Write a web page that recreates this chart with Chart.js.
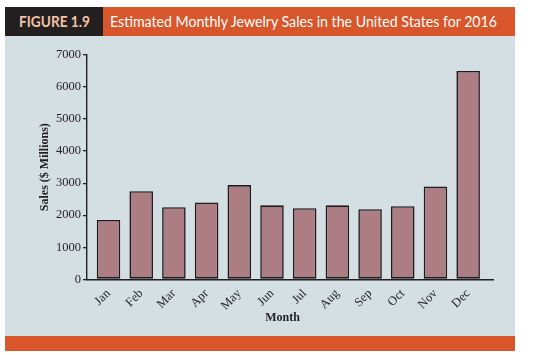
<!DOCTYPE html>
<html>
<head>
<meta charset="utf-8">
<script src="https://cdn.jsdelivr.net/npm/chart.js@4/dist/chart.umd.min.js"></script>
<style>
  html, body { margin: 0; padding: 0; background: #ffffff; }
  #wrap { position: relative; width: 534px; height: 355px; overflow: hidden; }
  .blk { position: absolute; }
  #figbox { left: 5px; top: 7px; width: 98px; height: 29px; background: #231F20; }
  #titlebox { left: 103px; top: 7px; width: 412px; height: 29px; background: #D9552A; }
  #panel { left: 5px; top: 36px; width: 510px; height: 300px; background: #D4DFE3; }
  #footer { left: 5px; top: 336px; width: 510px; height: 15px; background: #D9552A; }
  .htxt { position: absolute; white-space: nowrap; font-family: Lato, "Open Sans", sans-serif; font-size: 15.5px; line-height: 29px; top: 7px; transform-origin: left center; }
  #figtxt { left: 19px; color: #F3C4A6; font-weight: 700; }
  #ttltxt { left: 110px; color: #ffffff; font-weight: 400; }
  canvas { position: absolute; left: 0; top: 0; }
</style>
</head>
<body>
<div id="wrap">
  <div class="blk" id="figbox"></div>
  <div class="blk" id="titlebox"></div>
  <div class="blk" id="panel"></div>
  <div class="blk" id="footer"></div>
  <div class="htxt" id="figtxt">FIGURE 1.9</div>
  <div class="htxt" id="ttltxt">Estimated Monthly Jewelry Sales in the United States for 2016</div>
  <canvas id="c" width="534" height="355"></canvas>
</div>
<script>
const months = ["Jan","Feb","Mar","Apr","May","Jun","Jul","Aug","Sep","Oct","Nov","Dec"];
const sales = [1850, 2750, 2250, 2400, 2940, 2310, 2220, 2310, 2190, 2280, 2900, 6500];
const yTicks = [0, 1000, 2000, 3000, 4000, 5000, 6000, 7000];
const yAxisTitle = "Sales ($ Millions)";
const xAxisTitle = "Month";

// fit header texts to their measured widths
function fitText(id, target) {
  const el = document.getElementById(id);
  const w = el.getBoundingClientRect().width;
  el.style.transform = 'scaleX(' + (target / w) + ')';
}
fitText('figtxt', 71);
fitText('ttltxt', 387);

const ink = '#231F20';
const serif = '"Liberation Serif", "DejaVu Serif", serif';

new Chart(document.getElementById('c'), {
  type: 'bar',
  data: {
    datasets: [{
      data: months.map((m, i) => ({ x: i + 1, y: sales[i] })),
      backgroundColor: '#AC7D83',
      borderColor: '#1E1A1B',
      borderWidth: 1.6,
      borderSkipped: false,
      categoryPercentage: 1,
      barPercentage: 0.72
    }]
  },
  options: {
    responsive: false,
    animation: false,
    devicePixelRatio: 1,
    layout: { padding: { left: 0, right: 41, top: 55, bottom: 0 } },
    plugins: { legend: { display: false }, tooltip: { enabled: false } },
    scales: {
      x: {
        type: 'linear',
        bounds: 'data',
        offset: false,
        min: 0.342,
        max: 12.76,
        afterFit: s => { s.height = 75.7; },
        afterBuildTicks: s => { s.ticks = months.map((m, i) => ({ value: i + 1 })); },
        grid: { display: false, drawTicks: true, tickLength: 4 },
        border: { display: true, color: ink, width: 1.4 },
        ticks: {
          autoSkip: false,
          maxRotation: 45,
          minRotation: 45,
          padding: 3,
          color: ink,
          font: { family: serif, size: 12.5 },
          callback: (v) => months[Math.round(v) - 1]
        },
        title: {
          display: true,
          text: xAxisTitle + '\u00A0\u00A0\u00A0\u00A0\u00A0',
          color: ink,
          font: { family: serif, size: 12, weight: 'bold' },
          padding: { top: 0, bottom: 29.8 }
        }
      },
      y: {
        min: 0,
        max: 7000,
        afterFit: s => { s.width = 87; },
        afterBuildTicks: s => { s.ticks = yTicks.map(v => ({ value: v })); },
        grid: { display: true, drawOnChartArea: false, drawTicks: true, tickLength: 4, color: ink, lineWidth: 1.3 },
        border: { display: true, color: ink, width: 1.4 },
        ticks: {
          padding: 2,
          color: ink,
          font: { family: serif, size: 12.5 },
          callback: (v) => String(v)
        },
        title: {
          display: true,
          text: yAxisTitle,
          color: ink,
          font: { family: serif, size: 12, weight: 'bold' },
          padding: { top: 37.8, bottom: 0 }
        }
      }
    }
  }
});
</script>
</body>
</html>
